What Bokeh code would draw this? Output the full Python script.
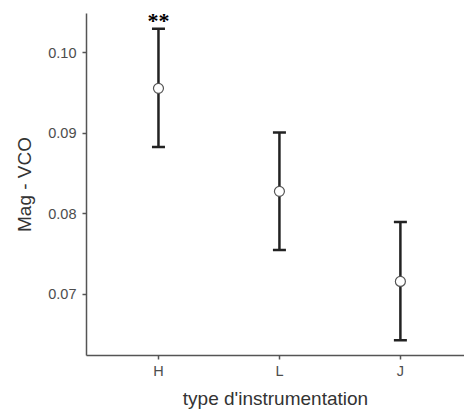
from bokeh.plotting import figure
from bokeh.models import ColumnDataSource, Range1d, FixedTicker, Whisker, TeeHead, LabelSet
from bokeh.embed import file_html
from bokeh.resources import INLINE

# Data
categories = ["H", "L", "J"]
means = [0.0956, 0.0828, 0.0716]
upper = [0.1030, 0.0901, 0.0790]
lower = [0.0883, 0.0755, 0.0643]
signif = ["**", "", ""]
y_ticks = [0.07, 0.08, 0.09, 0.10]
y_tick_labels = ["0.07", "0.08", "0.09", "0.10"]
x_title = "type d'instrumentation"
y_title = "Mag - VCO"

xpos = list(range(1, len(categories) + 1))
src = ColumnDataSource(dict(x=xpos, mean=means, upper=upper, lower=lower, sig=signif))

p = figure(width=464, height=412, output_backend="svg", toolbar_location=None,
           x_range=Range1d(0.405, 3.53), y_range=Range1d(0.0624, 0.1049),
           min_border_left=86, min_border_right=0, min_border_top=13, min_border_bottom=57)
p.outline_line_color = None
p.xgrid.visible = False
p.ygrid.visible = False
p.background_fill_color = "white"
p.border_fill_color = "white"

FONT = "Liberation Sans"
for ax in (p.xaxis[0], p.yaxis[0]):
    ax.axis_line_color = "#555555"
    ax.axis_line_width = 1.5
    ax.major_tick_line_color = "#555555"
    ax.major_tick_line_width = 1.5
    ax.major_tick_out = 4
    ax.major_tick_in = 0
    ax.minor_tick_line_color = None
    ax.major_label_text_font = FONT
    ax.major_label_text_font_size = "14.5px"
    ax.major_label_text_color = "#4d4d4d"
    ax.axis_label_text_font = FONT
    ax.axis_label_text_font_size = "19px"
    ax.axis_label_text_font_style = "normal"
    ax.axis_label_text_color = "#333333"

p.xaxis.ticker = FixedTicker(ticks=xpos)
p.xaxis.major_label_overrides = {x: c for x, c in zip(xpos, categories)}
p.xaxis.axis_label = x_title
p.xaxis.major_label_standoff = 3
p.xaxis.axis_label_standoff = 6

p.yaxis.ticker = FixedTicker(ticks=y_ticks)
p.yaxis.major_label_overrides = {t: l for t, l in zip(y_ticks, y_tick_labels)}
p.yaxis.axis_label = y_title
p.yaxis.major_label_standoff = 6
p.yaxis.axis_label_standoff = 10

w = Whisker(source=src, base="x", upper="upper", lower="lower",
            line_color="#222222", line_width=2.5,
            upper_head=TeeHead(size=13, line_color="#222222", line_width=2.5),
            lower_head=TeeHead(size=13, line_color="#222222", line_width=2.5))
p.add_layout(w)

p.scatter("x", "mean", source=src, size=10, fill_color="white",
          line_color="#555555", line_width=1.2)

labels = LabelSet(x="x", y="upper", text="sig", source=src, text_align="center",
                  text_baseline="middle", y_offset=8, text_font="DejaVu Sans",
                  text_font_size="22px", text_font_style="bold", text_color="black")
p.add_layout(labels)

open("out.html", "w").write(file_html(p, INLINE))
